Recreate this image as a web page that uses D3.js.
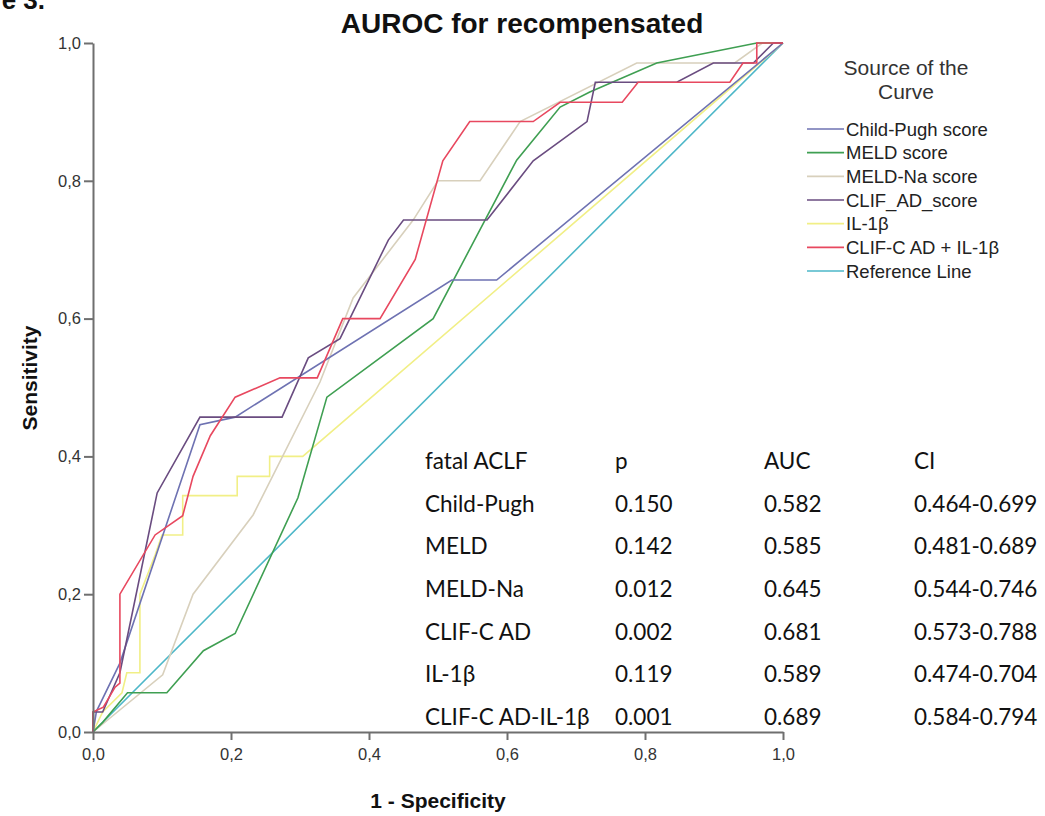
<!DOCTYPE html>
<html><head><meta charset="utf-8">
<script src="https://cdn.jsdelivr.net/npm/d3@7"></script>
<style>
html,body{margin:0;padding:0;background:#fff;}
svg{display:block;}
</style></head>
<body>
<svg id="chart" width="1045" height="816"></svg>
<script>
// ---- data ----
const seriesNames = ["Child-Pugh score","MELD score","MELD-Na score","CLIF_AD_score","IL-1β","CLIF-C AD + IL-1β","Reference Line"];
const seriesColors = ["#6e72b2","#3f9f52","#d8d0bc","#6a4c80","#f1ef86","#e8485f","#4db7c8"];

const childPugh = [[0,0],[0.005,0.03],[0.039,0.1],[0.155,0.446],[0.206,0.457],[0.52,0.656],[0.585,0.656],[1,1]];
const meld = [[0,0],[0.014,0.014],[0.05,0.057],[0.107,0.057],[0.16,0.118],[0.206,0.143],[0.297,0.34],[0.339,0.486],[0.493,0.6],[0.614,0.83],[0.677,0.907],[0.72,0.929],[0.817,0.971],[0.962,1],[1,1]];
const meldNa = [[0,0],[0.101,0.083],[0.145,0.2],[0.232,0.315],[0.329,0.508],[0.377,0.63],[0.464,0.743],[0.5,0.8],[0.561,0.8],[0.619,0.886],[0.788,0.971],[0.93,0.971],[0.97,1],[1,1]];
const clifAd = [[0,0],[0,0.029],[0.014,0.029],[0.039,0.086],[0.093,0.347],[0.155,0.457],[0.274,0.457],[0.312,0.543],[0.358,0.571],[0.428,0.714],[0.45,0.743],[0.571,0.743],[0.638,0.829],[0.716,0.886],[0.728,0.943],[0.846,0.943],[0.899,0.971],[0.957,0.971],[0.986,1],[1,1]];
const il1b = [[0,0],[0.014,0.029],[0.042,0.057],[0.049,0.086],[0.068,0.086],[0.068,0.2],[0.09,0.257],[0.1,0.286],[0.13,0.286],[0.13,0.343],[0.209,0.343],[0.209,0.371],[0.256,0.371],[0.256,0.4],[0.304,0.4],[1,1]];
const clifIl = [[0,0],[0,0.029],[0.015,0.036],[0.032,0.065],[0.039,0.071],[0.039,0.2],[0.09,0.286],[0.13,0.314],[0.145,0.371],[0.17,0.43],[0.206,0.486],[0.271,0.514],[0.325,0.514],[0.362,0.6],[0.416,0.6],[0.467,0.686],[0.507,0.829],[0.546,0.886],[0.638,0.886],[0.677,0.914],[0.767,0.914],[0.79,0.943],[0.923,0.943],[0.942,0.971],[0.962,0.971],[0.962,1],[1,1]];
const reference = [[0,0],[1,1]];

const tickValues = [0,0.2,0.4,0.6,0.8,1.0];
const tickLabels = ["0,0","0,2","0,4","0,6","0,8","1,0"];

const tableHeader = ["fatal ACLF","p","AUC","CI"];
const tableNames = ["Child-Pugh","MELD","MELD-Na","CLIF-C AD","IL-1β","CLIF-C AD-IL-1β"];
const tableP = ["0.150","0.142","0.012","0.002","0.119","0.001"];
const tableAUC = ["0.582","0.585","0.645","0.681","0.589","0.689"];
const tableCI = ["0.464-0.699","0.481-0.689","0.544-0.746","0.573-0.788","0.474-0.704","0.584-0.794"];

// ---- drawing ----
const svg = d3.select("#chart");
const font = "'Liberation Sans', Arial, sans-serif";
const x = d3.scaleLinear().domain([0,1]).range([93,783]);
const y = d3.scaleLinear().domain([0,1]).range([732,43]);

// partial figure label (cut off at the page edge, as in the source image)
svg.append("text").attr("x",45).attr("y",9).attr("text-anchor","end")
  .attr("font-family",font).attr("font-weight","bold").attr("font-size",26).attr("fill","#111").text("Figure 3.");

// title
svg.append("text").attr("x",522).attr("y",33).attr("text-anchor","middle")
  .attr("font-family",font).attr("font-weight","bold").attr("font-size",28).attr("fill","#111")
  .text("AUROC for recompensated");

// curves
const allSeries = [childPugh, meld, meldNa, clifAd, il1b, clifIl, reference];
const line = d3.line().x(d=>x(d[0])).y(d=>y(d[1]));
const drawOrder = [6,4,2,1,0,3,5];
drawOrder.forEach(i=>{
  svg.append("path").datum(allSeries[i]).attr("d",line)
    .attr("fill","none").attr("stroke",seriesColors[i]).attr("stroke-width",1.6)
    .attr("stroke-linejoin","miter");
});

// axes
const xAxis = d3.axisBottom(x).tickValues(tickValues).tickFormat((d,i)=>tickLabels[i]).tickSize(8).tickSizeOuter(0);
const yAxis = d3.axisLeft(y).tickValues(tickValues).tickFormat((d,i)=>tickLabels[i]).tickSize(9).tickSizeOuter(0);
const gx = svg.append("g").attr("transform","translate(0,732)").call(xAxis);
const gy = svg.append("g").attr("transform","translate(93,0)").call(yAxis);
[gx,gy].forEach(g=>{
  g.select(".domain").attr("stroke","#6f6f6f").attr("stroke-width",2);
  g.selectAll(".tick line").attr("stroke","#6f6f6f").attr("stroke-width",2);
  g.selectAll(".tick text").attr("font-family",font).attr("font-size",16.5).attr("fill","#333");
});
gx.selectAll(".tick text").attr("dy","0.95em").attr("y",12);
gy.selectAll(".tick text").attr("x",-12);

// axis titles
svg.append("text").attr("transform","translate(37,378) rotate(-90)").attr("text-anchor","middle")
  .attr("font-family",font).attr("font-weight","bold").attr("font-size",21).attr("fill","#111").text("Sensitivity");
svg.append("text").attr("x",438).attr("y",808).attr("text-anchor","middle")
  .attr("font-family",font).attr("font-weight","bold").attr("font-size",21).attr("fill","#111").text("1 - Specificity");

// legend
const lg = svg.append("g");
lg.append("text").attr("x",906).attr("y",75).attr("text-anchor","middle").attr("font-family",font)
  .attr("font-size",21).attr("fill","#333").text("Source of the");
lg.append("text").attr("x",906).attr("y",99).attr("text-anchor","middle").attr("font-family",font)
  .attr("font-size",21).attr("fill","#333").text("Curve");
const ly = d3.scaleLinear().domain([0,6]).range([129,271]);
seriesNames.forEach((n,i)=>{
  lg.append("line").attr("x1",807).attr("x2",844).attr("y1",ly(i)).attr("y2",ly(i))
    .attr("stroke",seriesColors[i]).attr("stroke-width",1.6);
  lg.append("text").attr("x",846).attr("y",ly(i)).attr("dy","0.36em").attr("font-family",font)
    .attr("font-size",18.5).attr("fill","#222").text(n);
});

// table
const tfont = "Lato, 'Open Sans', sans-serif";
const colX = [425,615,764,914];
const ry = d3.scaleLinear().domain([0,6]).range([461,717]);
const rows = [tableHeader].concat(tableNames.map((n,i)=>[n,tableP[i],tableAUC[i],tableCI[i]]));
rows.forEach((r,ri)=>{
  r.forEach((t,ci)=>{
    svg.append("text").attr("x",colX[ci]).attr("y",ry(ri)).attr("dy","0.35em")
      .attr("font-family",tfont).attr("font-size",22.5).attr("fill","#111").text(t);
  });
});
</script>
</body></html>
